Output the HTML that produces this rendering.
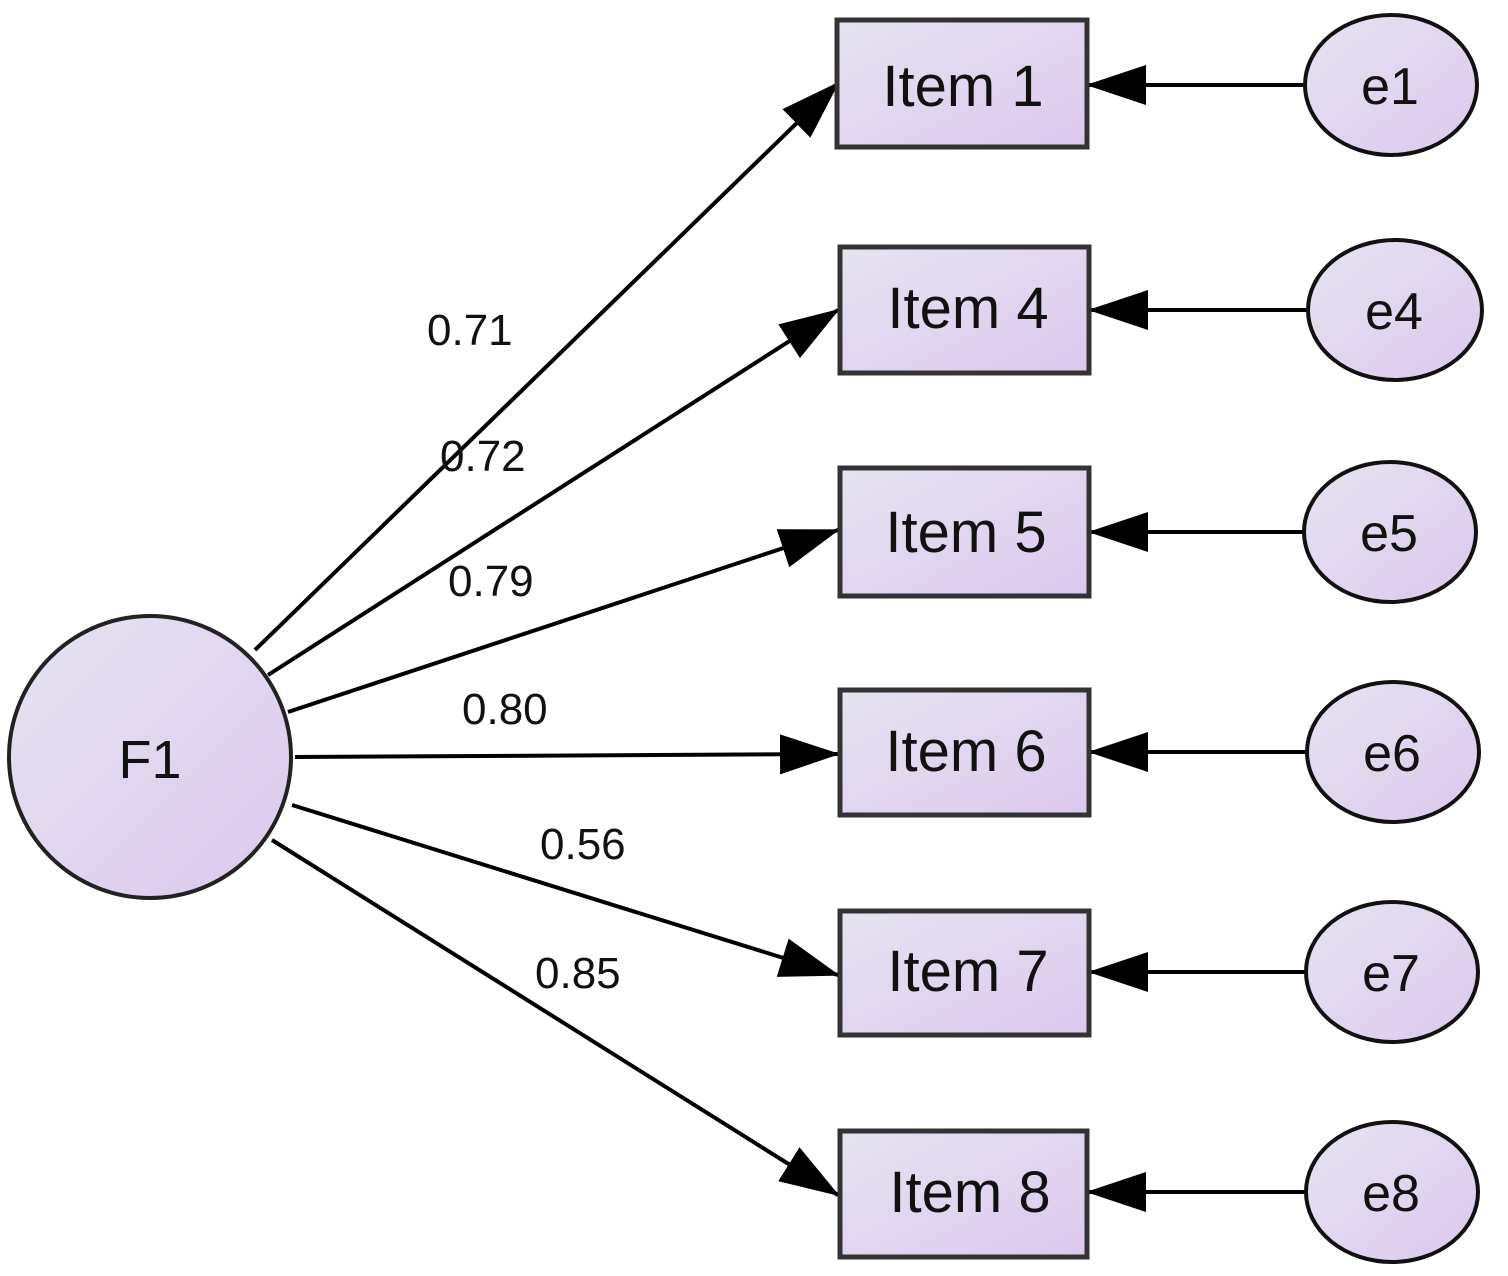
<!DOCTYPE html>
<html><head><meta charset="utf-8"><style>
html,body{margin:0;padding:0;background:#fff;}
svg{display:block;}
text{font-family:"Liberation Sans",Arial,sans-serif;fill:#111;}
</style></head><body>
<svg width="1508" height="1276" viewBox="0 0 1508 1276" xmlns="http://www.w3.org/2000/svg">
<defs>
<linearGradient id="g" x1="0" y1="0" x2="1" y2="1">
<stop offset="0" stop-color="#e6e4f0"/><stop offset="1" stop-color="#dcc8ee"/>
</linearGradient>
<marker id="ah" markerWidth="60" markerHeight="40" refX="58" refY="20" orient="auto" markerUnits="userSpaceOnUse">
<path d="M0,0 L60,20 L0,40 Z" fill="#000"/>
</marker>
</defs>
<g stroke="#000" stroke-width="4" fill="none" marker-end="url(#ah)">
<line x1="255" y1="650" x2="838" y2="83"/>
<line x1="268" y1="675" x2="838" y2="310"/>
<line x1="288" y1="712" x2="838" y2="530"/>
<line x1="295" y1="757" x2="838" y2="754"/>
<line x1="292" y1="805" x2="838" y2="975"/>
<line x1="272" y1="840" x2="838" y2="1195"/>
<line x1="1305" y1="85" x2="1088" y2="85"/>
<line x1="1308" y1="310" x2="1090" y2="310"/>
<line x1="1305" y1="532" x2="1090" y2="532"/>
<line x1="1306" y1="752" x2="1090" y2="752"/>
<line x1="1305" y1="972" x2="1090" y2="972"/>
<line x1="1305" y1="1192" x2="1088" y2="1192"/>
</g>
<circle cx="150" cy="757" r="141" fill="url(#g)" stroke="#222" stroke-width="4"/>
<text x="150" y="778" font-size="54" text-anchor="middle">F1</text>
<g fill="url(#g)" stroke="#333" stroke-width="5">
<rect x="837" y="20" width="250" height="127"/>
<rect x="840" y="247" width="249" height="126"/>
<rect x="840" y="468" width="249" height="128"/>
<rect x="840" y="690" width="249" height="125"/>
<rect x="840" y="911" width="249" height="124"/>
<rect x="840" y="1131" width="247" height="126"/>
</g>
<g font-size="58" text-anchor="middle">
<text x="963" y="106">Item 1</text>
<text x="968" y="328">Item 4</text>
<text x="966" y="552">Item 5</text>
<text x="966" y="771">Item 6</text>
<text x="968" y="991">Item 7</text>
<text x="970" y="1212">Item 8</text>
</g>
<g fill="url(#g)" stroke="#111" stroke-width="4">
<ellipse cx="1391" cy="85" rx="86" ry="70"/>
<ellipse cx="1395" cy="310" rx="87" ry="70"/>
<ellipse cx="1390" cy="532" rx="86" ry="70"/>
<ellipse cx="1393" cy="752" rx="86" ry="70"/>
<ellipse cx="1392" cy="972" rx="86" ry="70"/>
<ellipse cx="1392" cy="1192" rx="86" ry="70"/>
</g>
<g font-size="52" text-anchor="middle">
<text x="1390" y="104">e1</text>
<text x="1394" y="329">e4</text>
<text x="1389" y="551">e5</text>
<text x="1392" y="771">e6</text>
<text x="1391" y="991">e7</text>
<text x="1391" y="1211">e8</text>
</g>
<g font-size="44">
<text x="427" y="345">0.71</text>
<text x="440" y="471">0.72</text>
<text x="448" y="596">0.79</text>
<text x="462" y="724">0.80</text>
<text x="540" y="859">0.56</text>
<text x="535" y="988">0.85</text>
</g>
</svg>
</body></html>
